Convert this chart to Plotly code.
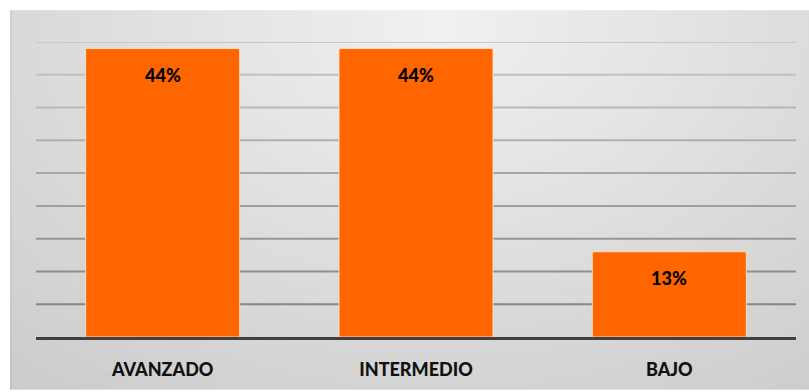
import base64, struct, zlib
import numpy as np
import plotly.graph_objects as go

# ---- data ----
categories = ["AVANZADO", "INTERMEDIO", "BAJO"]
values = [0.44, 0.44, 0.13]
grid_ticks = [0.05, 0.10, 0.15, 0.20, 0.25, 0.30, 0.35, 0.40, 0.45]

# ---- layout constants ----
W, H = 809, 392
ML, MR, MT, MB = 36, 13, 42, 53
PW, PH = W - ML - MR, H - MT - MB
PANEL_X0, PANEL_Y0 = 10, 10
YMAX = 0.45
FONT = "Lato, 'Open Sans', Arial, sans-serif"


def gradient_png(w, h):
    xs = np.arange(w)[None, :].astype(float)
    ys = np.arange(h)[:, None].astype(float)
    cx, cy = 430.0, 20.0
    drop = np.sqrt((0.055 * (xs - cx)) ** 2 + (0.08 * np.clip(ys - cy, 0, None)) ** 2)
    v = 241.0 - drop
    v[:, 0:2] -= 8
    img = np.clip(v, 0, 255).astype(np.uint8)
    raw = b"".join(b"\x00" + img[r].tobytes() for r in range(h))

    def chunk(tag, data):
        c = struct.pack(">I", len(data)) + tag + data
        return c + struct.pack(">I", zlib.crc32(tag + data) & 0xFFFFFFFF)

    png = b"\x89PNG\r\n\x1a\n"
    png += chunk(b"IHDR", struct.pack(">IIBBBBB", w, h, 8, 0, 0, 0, 0))
    png += chunk(b"IDAT", zlib.compress(raw, 9))
    png += chunk(b"IEND", b"")
    return "data:image/png;base64," + base64.b64encode(png).decode()


panel_w, panel_h = W - PANEL_X0, H - PANEL_Y0
px0 = (PANEL_X0 - ML) / PW
py1 = (H - MB - PANEL_Y0) / PH

fig = go.Figure()
fig.add_trace(go.Bar(
    x=categories, y=values,
    marker=dict(color="#FF6600", line=dict(color="rgba(255,225,200,0.9)", width=1)),
    hoverinfo="skip",
))

shapes = []
for t in grid_ticks:
    ypix = MT + (YMAX - t) / YMAX * PH
    f = (ypix - MT) / (PH - 33)
    g = int(round(0xC8 - (0xC8 - 0x86) * f))
    shapes.append(dict(type="line", xref="paper", yref="y", x0=0, x1=1, y0=t, y1=t,
                       line=dict(color=f"rgb({g},{g},{g})", width=2), layer="below"))
fig.update_layout(shapes=shapes)

for c, v in zip(categories, values):
    fig.add_annotation(x=c, y=v, text=f"{round(v * 100)}%", showarrow=False,
                       yanchor="top", yshift=-13,
                       font=dict(family=FONT, size=18, color="#000000", weight=900))

fig.update_layout(
    width=W, height=H,
    margin=dict(l=ML, r=MR, t=MT, b=MB, pad=0),
    paper_bgcolor="white", plot_bgcolor="rgba(0,0,0,0)",
    bargap=0.392, showlegend=False,
    images=[dict(source=gradient_png(panel_w, panel_h), xref="paper", yref="paper",
                 x=px0, y=py1, sizex=panel_w / PW, sizey=panel_h / PH,
                 xanchor="left", yanchor="top", sizing="stretch", layer="below")],
    xaxis=dict(showgrid=False, showline=True, linecolor="#404040", linewidth=3,
               ticks="outside", ticklen=14, tickcolor="rgba(0,0,0,0)",
               tickfont=dict(family=FONT, size=18, color="#111111", weight=900),
               fixedrange=True),
    yaxis=dict(range=[0, YMAX], showgrid=False, showticklabels=False, zeroline=False,
               fixedrange=True),
)

fig.write_html("out.html")
